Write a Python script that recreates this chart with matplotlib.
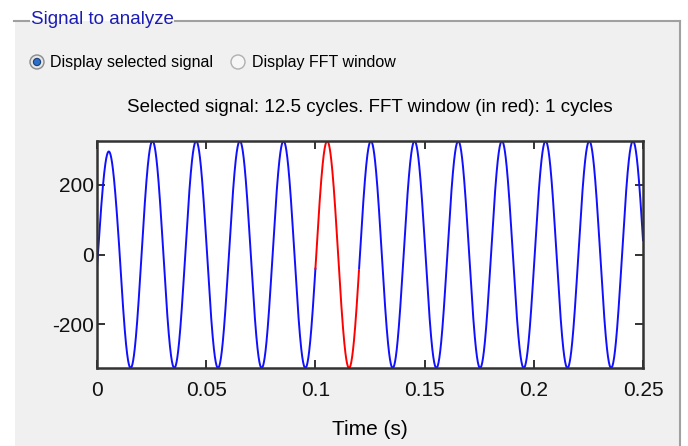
import numpy as np
import matplotlib
matplotlib.use("Agg")
import matplotlib.pyplot as plt
from matplotlib.patches import Rectangle, Circle
from matplotlib.lines import Line2D

plt.rcParams['font.family'] = ['Liberation Sans', 'DejaVu Sans']
plt.rcParams['axes.unicode_minus'] = False

# Signal: 50 Hz, ~325 peak, 12.5 cycles in 0.25 s
FREQ = 50.0            # Hz
DURATION = 0.25        # s
DELAY = 0.0004         # s, small lag of the zero crossings
# peak value of every half cycle (first one is lower)
half_peaks = [295, 295, 325, 325, 325, 325, 325, 325, 325, 325, 325, 325, 325,
              325, 325, 325, 325, 325, 325, 325, 325, 325, 325, 325, 325, 325]
FFT_START = 0.10       # red window
FFT_END = 0.12
Y_LIM = (-325, 325)
x_ticks = [0, 0.05, 0.1, 0.15, 0.2, 0.25]
x_tick_labels = ['0', '0.05', '0.1', '0.15', '0.2', '0.25']
y_ticks = [-200, 0, 200]

title = 'Selected signal: 12.5 cycles. FFT window (in red): 1 cycles'
panel_title = 'Signal to analyze'
radio_labels = ['Display selected signal', 'Display FFT window']

# build waveform, half cycle by half cycle
t = np.linspace(0, DURATION, 5001)
phase = 2 * np.pi * FREQ * (t - DELAY)
idx = np.clip(np.floor(phase / np.pi).astype(int) + 1, 0, len(half_peaks) - 1)
amp = np.array(half_peaks)[idx]
y = amp * np.sin(phase)

W, H = 688, 446
fig = plt.figure(figsize=(W / 100, H / 100), dpi=100, facecolor='white')


def fx(x):
    return x / W


def fy(yy):
    return 1 - yy / H


# group box
fig.patches.append(Rectangle((fx(15), 0), fx(680) - fx(15), fy(21), transform=fig.transFigure,
                             facecolor='#F0F0F0', edgecolor='none', zorder=-5))
fig.add_artist(Line2D([fx(14), fx(29)], [fy(21), fy(21)], color='#A0A0A0', lw=1.5))
fig.add_artist(Line2D([fx(175), fx(680)], [fy(21), fy(21)], color='#A0A0A0', lw=1.5))
fig.add_artist(Line2D([fx(680), fx(680)], [fy(21), 0], color='#A0A0A0', lw=1.5))
fig.text(fx(31), fy(20), panel_title, color='#1C1CB4', fontsize=13.5,
         va='center', ha='left')


# radio buttons (inch coordinates so they stay round)
def radio(xp, yp, on):
    c = (xp / 100, (H - yp) / 100)
    fig.add_artist(Circle(c, 0.07, transform=fig.dpi_scale_trans,
                          facecolor='#E6E6E6' if on else '#F6F6F6',
                          edgecolor='#8A8A8A' if on else '#B0B0B0', lw=1))
    if on:
        fig.add_artist(Circle(c, 0.036, transform=fig.dpi_scale_trans,
                              facecolor='#2A6FC9', edgecolor='#1B3E78', lw=0.8))


radio(37, 62, True)
radio(238, 62, False)
fig.text(fx(50), fy(62), radio_labels[0], fontsize=11.5, va='center', ha='left')
fig.text(fx(252), fy(62), radio_labels[1], fontsize=11.5, va='center', ha='left')

# axes
ax = fig.add_axes([fx(97), fy(368), fx(643) - fx(97), fy(141) - fy(368)], zorder=5)
ax.set_facecolor('white')
red = (t >= FFT_START) & (t <= FFT_END)
y_blue = np.where((t > FFT_START) & (t < FFT_END), np.nan, y)
ax.plot(t, y_blue, color='#1010FF', lw=1.4)
ax.plot(t[red], y[red], color='#FF0000', lw=1.4)
ax.set_xlim(0, DURATION)
ax.set_ylim(*Y_LIM)
ax.set_xticks(x_ticks)
ax.set_xticklabels(x_tick_labels)
ax.set_yticks(y_ticks)
ax.tick_params(direction='in', top=True, right=True, length=6, width=1.2,
               labelsize=15, colors='#111111')
ax.tick_params(axis='x', pad=9)
ax.tick_params(axis='y', pad=2)
for s in ax.spines.values():
    s.set_linewidth(1.8)
    s.set_color('#333333')
ax.set_title(title, fontsize=13.5, pad=21)
ax.set_xlabel('Time (s)', fontsize=15, labelpad=15)

fig.savefig('out.png', dpi=100, facecolor='white')
